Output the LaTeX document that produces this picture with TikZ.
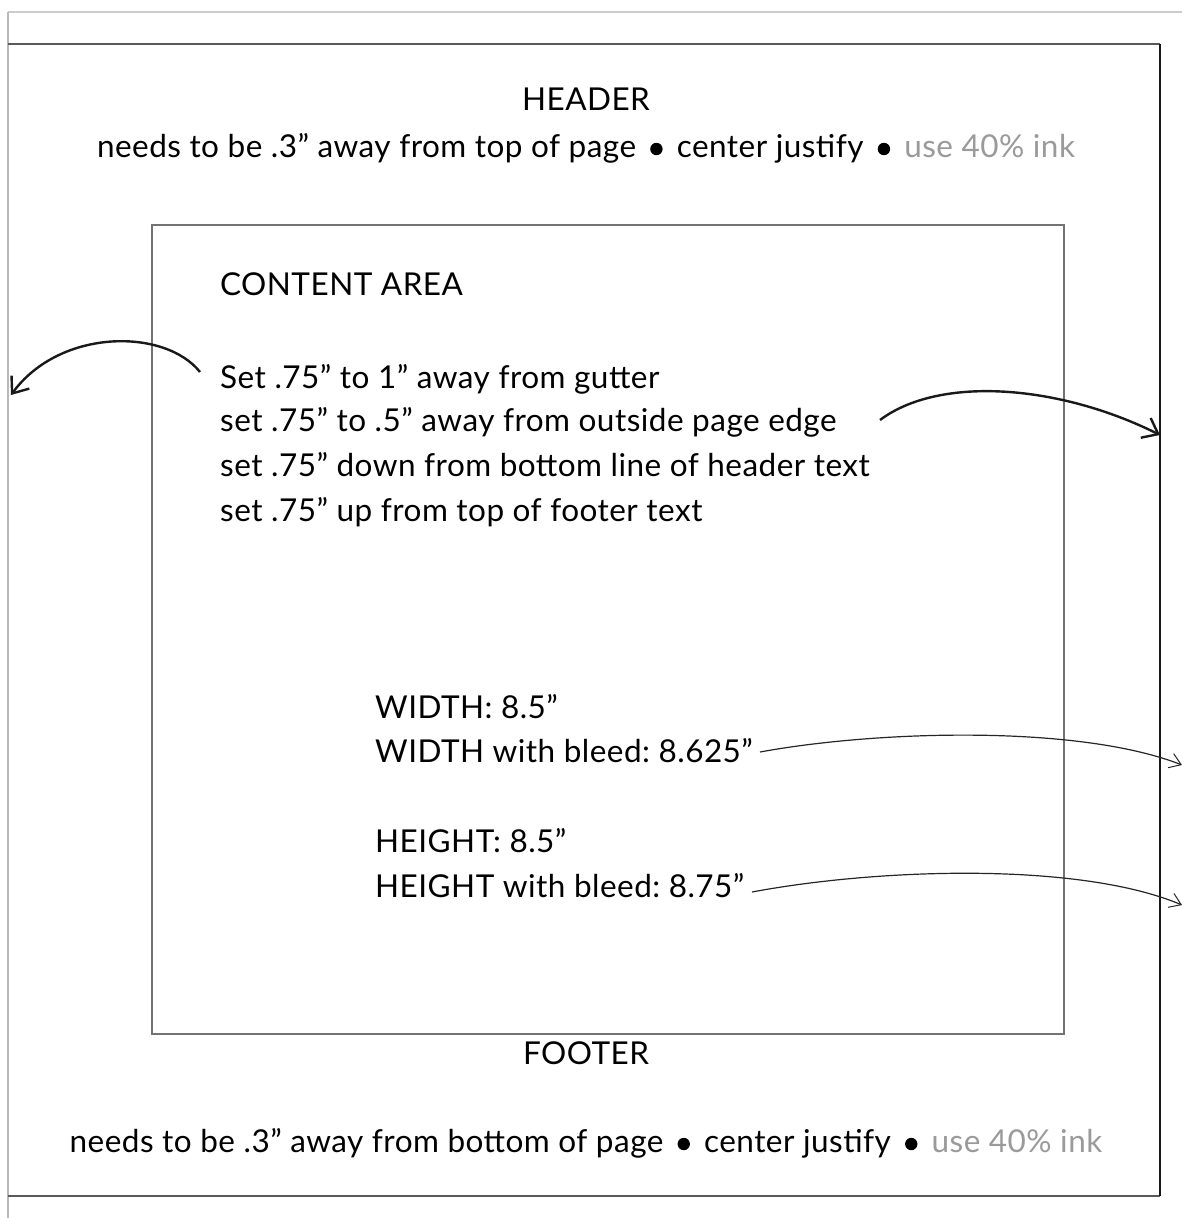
\documentclass[tikz,border=0pt]{standalone}
\usepackage{fontspec}
\setmainfont{Lato}[LetterSpace=1.5]
\usetikzlibrary{arrows.meta}
\definecolor{inkgray}{HTML}{9A9A9A}
\newcommand\bul{\hspace{0.45em}\tikz[baseline=0pt]\fill[black] (0pt,8pt) circle (6.2pt);\hspace{0.45em}}
\tikzset{
  txt/.style={inner sep=0pt, font=\fontsize{31.5}{36}\selectfont},
  thickarr/.style={line width=2.4pt, -{Straight Barb[length=14pt,width=22pt,line width=2.4pt]}, black!90},
  thinarr/.style={line width=1.2pt, -{Straight Barb[length=11pt,width=15pt,line width=1pt]}, black!85},
}
\frenchspacing
\begin{document}
\begin{tikzpicture}[x=1pt,y=-1pt]
\useasboundingbox (0,0) rectangle (1182,1218);
\fill[white] (0,0) rectangle (1182,1218);
% page guide lines
\draw[gray!40, line width=1.5pt] (8,12) -- (1182,12);
\draw[gray!55, line width=1.5pt] (8,12) -- (8,1218);
% outer page box
\draw[black!65, line width=1.6pt] (8,44) -- (1160,44);
\draw[black!65, line width=1.6pt] (8,1196) -- (1160,1196);
\draw[black!90, line width=1.4pt] (1160,44) -- (1160,1196);
% content box
\draw[black!55, line width=1.3pt] (152,225) rectangle (1064,1034);
% header
\node[txt, anchor=base] (header) at (586,110) {HEADER};
\node[txt, anchor=base] (headline) at (586,157) {needs to be .3” away from top of page\bul center justify\bul\textcolor{inkgray}{use 40\% ink}};
% content
\node[txt, anchor=base west] (content) at (220,295) {CONTENT AREA};
\node[txt, anchor=base west] (l1) at (220,388) {Set .75” to 1” away from gutter};
\node[txt, anchor=base west] (l2) at (220,431) {set .75” to .5” away from outside page edge};
\node[txt, anchor=base west] (l3) at (220,476) {set .75” down from bottom line of header text};
\node[txt, anchor=base west] (l4) at (220,521) {set .75” up from top of footer text};
\node[txt, anchor=base west] (w1) at (375,718) {WIDTH: 8.5”};
\node[txt, anchor=base west] (w2) at (375,762) {WIDTH with bleed: 8.625”};
\node[txt, anchor=base west] (h1) at (375,852) {HEIGHT: 8.5”};
\node[txt, anchor=base west] (h2) at (375,897) {HEIGHT with bleed: 8.75”};
% footer
\node[txt, anchor=base] (footer) at (586,1064) {FOOTER};
\node[txt, anchor=base] (footline) at (586,1152) {needs to be .3” away from bottom of page\bul center justify\bul\textcolor{inkgray}{use 40\% ink}};
% arrow ends
\coordinate (s1) at (200,372);
\coordinate (s2) at (880,420);
\coordinate (s3) at (760,752);
\coordinate (s4) at (752,892);
\coordinate (gutter) at (11,395);
\coordinate (edge) at (1160,435);
\coordinate (wbleed) at (1182,765);
\coordinate (hbleed) at (1182,905);
% arrows
\draw[thickarr] (s1) .. controls (165,328) and (60,328) .. (gutter);
\draw[thickarr] (s2) .. controls (940,375) and (1060,385) .. (edge);
\draw[thinarr] (s3) .. controls (880,730) and (1080,725) .. (wbleed);
\draw[thinarr] (s4) .. controls (880,868) and (1080,862) .. (hbleed);
\end{tikzpicture}
\end{document}
